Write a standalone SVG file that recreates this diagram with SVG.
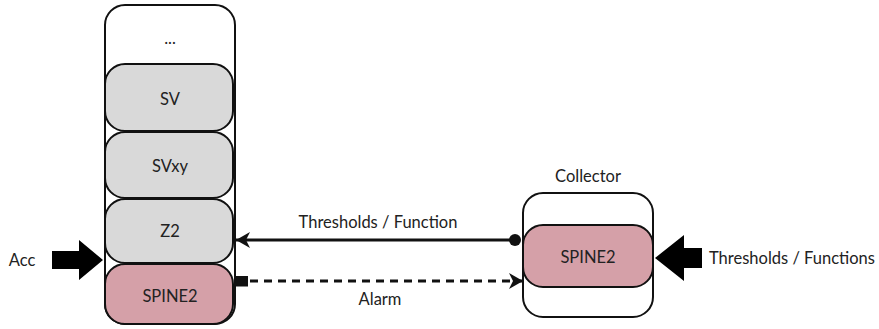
<svg xmlns="http://www.w3.org/2000/svg" width="879" height="329" viewBox="0 0 879 329">
  <defs>
    <style>
      text { font-family: Lato, "Open Sans", "Liberation Sans", sans-serif; font-size: 16.5px; fill: #222; text-anchor: middle; dominant-baseline: central; }
      .frame { fill: #fff; stroke: #111; stroke-width: 2; }
      .grey { fill: #d9d9d9; stroke: #111; stroke-width: 2; }
      .pink { fill: #d5a0a8; stroke: #111; stroke-width: 2; }
      .line { stroke: #111; stroke-width: 3; fill: none; }
      .big { fill: #000; }
    </style>
    <marker id="tri" viewBox="0 0 14 16" refX="14" refY="8" markerWidth="14" markerHeight="16" orient="auto" markerUnits="userSpaceOnUse">
      <path d="M0,0 L14,8 L0,16 L4,8 Z" fill="#111"/>
    </marker>
    <marker id="dot" viewBox="0 0 12 12" refX="6" refY="6" markerWidth="12" markerHeight="12" orient="auto" markerUnits="userSpaceOnUse">
      <circle cx="6" cy="6" r="6" fill="#111"/>
    </marker>
    <marker id="sq" viewBox="0 0 12 11" refX="0" refY="5.5" markerWidth="12" markerHeight="11" orient="auto" markerUnits="userSpaceOnUse">
      <rect x="0" y="0" width="12" height="11" fill="#111"/>
    </marker>
  </defs>

  <!-- stacked levels -->
  <g id="stack">
    <rect class="frame" x="105" y="5" width="130" height="319" rx="20"/>
    <text x="170" y="38">...</text>
  </g>
  <g id="sv">
    <rect class="grey" x="105" y="64" width="128" height="67" rx="20"/>
    <text x="170" y="99">SV</text>
  </g>
  <g id="svxy">
    <rect class="grey" x="105" y="132" width="128" height="66" rx="20"/>
    <text x="170" y="166">SVxy</text>
  </g>
  <g id="z2">
    <rect class="grey" x="105" y="199" width="128" height="64" rx="20"/>
    <text x="170" y="231">Z2</text>
  </g>
  <g id="spine2-left">
    <rect class="pink" x="105" y="264" width="128" height="60" rx="20"/>
    <text x="170" y="296">SPINE2</text>
  </g>

  <!-- collector -->
  <g id="collector">
    <text x="588" y="176">Collector</text>
    <rect class="frame" x="523" y="193" width="130" height="124" rx="20"/>
  </g>
  <g id="spine2-right">
    <rect class="pink" x="523" y="225" width="130" height="62" rx="20"/>
    <text x="588" y="257">SPINE2</text>
  </g>

  <!-- connectors -->
  <g id="connectors">
    <line class="line" x1="515" y1="240" x2="236" y2="240" marker-start="url(#dot)" marker-end="url(#tri)"/>
    <text x="378" y="222">Thresholds / Function</text>
    <line class="line" x1="236" y1="281" x2="523" y2="281" stroke-dasharray="8,6" marker-start="url(#sq)" marker-end="url(#tri)"/>
    <text x="380" y="299">Alarm</text>

    <path class="big" d="M52,251 L79,251 L79,240 L103,260 L79,280 L79,269 L52,269 Z"/>
    <text x="22" y="260">Acc</text>

    <path class="big" d="M702,248 L684,248 L684,235 L655,258 L684,281 L684,268 L702,268 Z"/>
    <text x="792" y="258">Thresholds / Functions</text>
  </g>
</svg>
